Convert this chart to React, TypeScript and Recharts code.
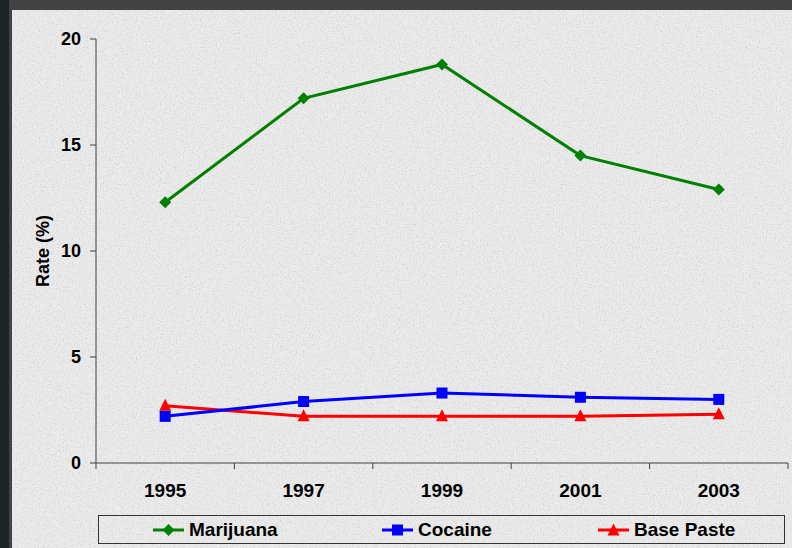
import { LineChart, Line, XAxis, YAxis } from "recharts";

const years = [1995, 1997, 1999, 2001, 2003];
const marijuana = [12.3, 17.2, 18.8, 14.5, 12.9];
const cocaine = [2.2, 2.9, 3.3, 3.1, 3.0];
const basePaste = [2.7, 2.2, 2.2, 2.2, 2.3];

const yTicks = [0, 5, 10, 15, 20];
// even years are the category boundaries (tick marks), odd years carry labels
const xTicks = [1994, 1995, 1996, 1997, 1998, 1999, 2000, 2001, 2002, 2003, 2004];

const data = years.map((year, i) => ({
  year,
  marijuana: marijuana[i],
  cocaine: cocaine[i],
  basePaste: basePaste[i],
}));

const FONT = "'Liberation Sans', Arial, sans-serif";
const AXIS = "#404040";
const GREEN = "#008000";
const BLUE = "#0000ff";
const RED = "#ff0000";

const Diamond = ({ cx, cy, color, s = 6 }: any) => (
  <polygon
    points={`${cx},${cy - s} ${cx + s},${cy} ${cx},${cy + s} ${cx - s},${cy}`}
    fill={color}
  />
);
const Square = ({ cx, cy, color, s = 5.5 }: any) => (
  <rect x={cx - s} y={cy - s} width={s * 2} height={s * 2} fill={color} />
);
const Triangle = ({ cx, cy, color, s = 6 }: any) => (
  <polygon
    points={`${cx},${cy - s - 1} ${cx + s},${cy + s - 1} ${cx - s},${cy + s - 1}`}
    fill={color}
  />
);

const XTick = (props: any) => {
  const { x, y, payload } = props;
  const v = payload.value;
  if (v % 2 === 0) {
    return <line x1={x} x2={x} y1={y} y2={y + 6} stroke={AXIS} strokeWidth={1} />;
  }
  return (
    <text
      x={x}
      y={y + 34}
      textAnchor="middle"
      fontFamily={FONT}
      fontWeight="bold"
      fontSize={19}
      fill="#000"
    >
      {v}
    </text>
  );
};

const legendItems = [
  { name: "Marijuana", color: GREEN, shape: "diamond", left: 153 },
  { name: "Cocaine", color: BLUE, shape: "square", left: 382 },
  { name: "Base Paste", color: RED, shape: "triangle", left: 598 },
];

export default function App() {
  return (
    <div
      style={{
        position: "absolute",
        left: 0,
        top: 0,
        width: 792,
        height: 548,
        background: "#434343",
        overflow: "hidden",
      }}
    >
      <div style={{ position: "absolute", left: 0, top: 0, width: 9, height: 548, background: "#1d2426" }} />
      <svg
        width={780}
        height={538}
        style={{ position: "absolute", left: 12, top: 10 }}
      >
        <defs>
          <filter id="grain" x="0" y="0" width="100%" height="100%">
            <feTurbulence type="fractalNoise" baseFrequency="0.7" numOctaves="3" seed="4" />
            <feColorMatrix
              type="matrix"
              values="0 0 0 0 0.55  0 0 0 0 0.55  0 0 0 0 0.55  3 0 0 0 -1.45"
            />
          </filter>
        </defs>
        <rect width={780} height={538} fill="#ebebeb" />
        <rect width={780} height={538} filter="url(#grain)" opacity={0.55} />
      </svg>
      <div style={{ position: "absolute", left: 12, top: 10 }}>
        <LineChart
          width={780}
          height={538}
          data={data}
          margin={{ top: 29, right: 4, bottom: 40, left: 0 }}
        >
          <XAxis
            dataKey="year"
            type="number"
            domain={[1994, 2004]}
            ticks={xTicks}
            interval={0}
            tickLine={false}
            tickSize={0}
            tickMargin={0}
            height={45}
            axisLine={{ stroke: AXIS, strokeWidth: 1 }}
            tick={<XTick />}
          />
          <YAxis
            type="number"
            domain={[0, 20]}
            ticks={yTicks}
            width={84}
            tickSize={6}
            tickMargin={9}
            axisLine={{ stroke: AXIS, strokeWidth: 1 }}
            tickLine={{ stroke: AXIS, strokeWidth: 1 }}
            tick={{ fontFamily: FONT, fontWeight: "bold", fontSize: 18, fill: "#000" }}
            label={{
              value: "Rate (%)",
              angle: -90,
              position: "insideLeft",
              offset: 31,
              style: {
                textAnchor: "middle",
                fontFamily: FONT,
                fontWeight: "bold",
                fontSize: 18,
                fill: "#000",
              },
            }}
          />
          <Line
            dataKey="basePaste"
            stroke={RED}
            strokeWidth={3}
            isAnimationActive={false}
            dot={(p: any) => <Triangle key={p.index} cx={p.cx} cy={p.cy} color={RED} />}
          />
          <Line
            dataKey="cocaine"
            stroke={BLUE}
            strokeWidth={3}
            isAnimationActive={false}
            dot={(p: any) => <Square key={p.index} cx={p.cx} cy={p.cy} color={BLUE} />}
          />
          <Line
            dataKey="marijuana"
            stroke={GREEN}
            strokeWidth={3}
            isAnimationActive={false}
            dot={(p: any) => <Diamond key={p.index} cx={p.cx} cy={p.cy} color={GREEN} />}
          />
        </LineChart>
      </div>
      <div
        style={{
          position: "absolute",
          left: 98,
          top: 515,
          width: 685,
          height: 27,
          border: "1px solid #333",
        }}
      >
        {legendItems.map((item) => (
          <div
            key={item.name}
            style={{
              position: "absolute",
              left: item.left - 99,
              top: 0,
              height: 27,
              display: "flex",
              alignItems: "center",
              fontFamily: FONT,
              fontWeight: "bold",
              fontSize: 19,
              color: "#000",
            }}
          >
            <svg width={34} height={16}>
              <line x1={0} x2={31} y1={8} y2={8} stroke={item.color} strokeWidth={3} />
              {item.shape === "diamond" && <Diamond cx={15.5} cy={8} color={item.color} />}
              {item.shape === "square" && <Square cx={15.5} cy={8} color={item.color} />}
              {item.shape === "triangle" && <Triangle cx={15.5} cy={8.5} color={item.color} />}
            </svg>
            <span style={{ marginLeft: 2 }}>{item.name}</span>
          </div>
        ))}
      </div>
    </div>
  );
}
